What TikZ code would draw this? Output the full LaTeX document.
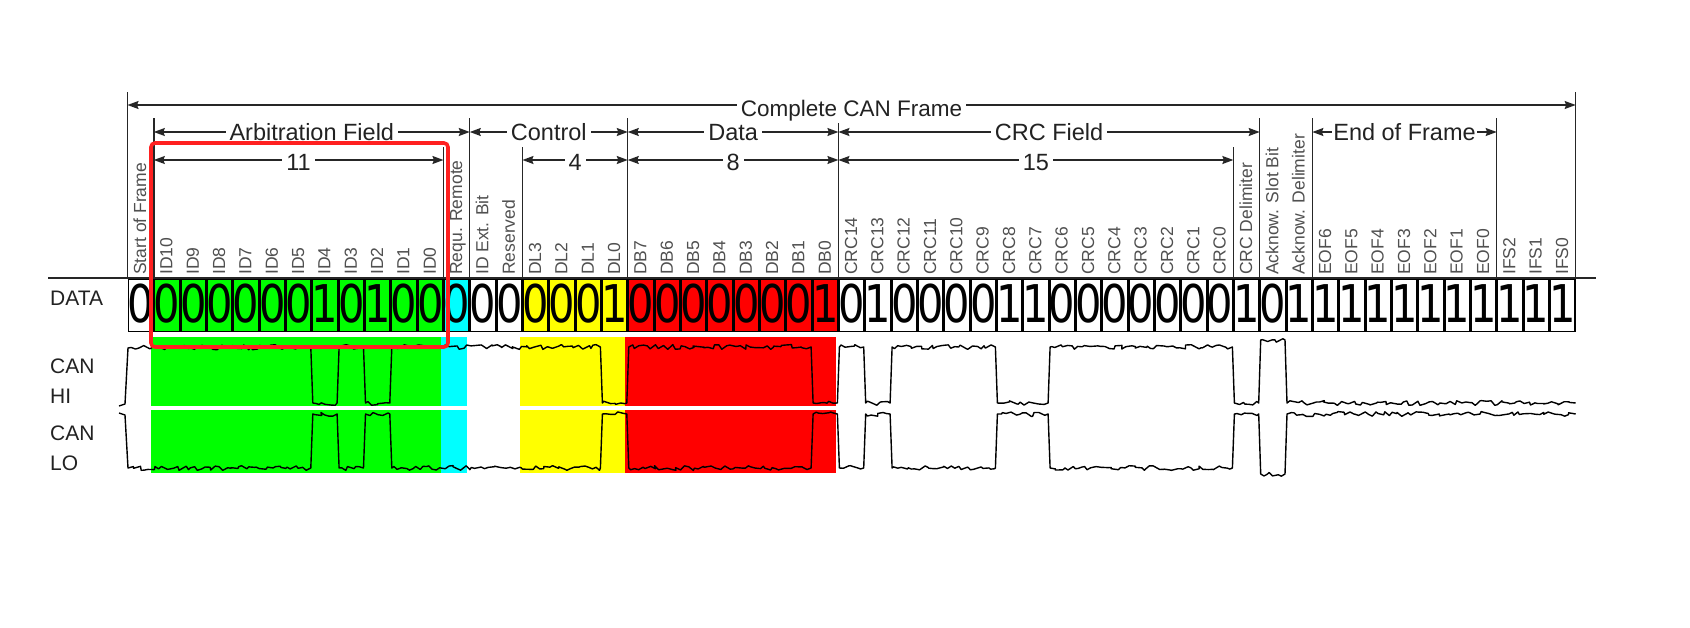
\documentclass[tikz,border=0pt]{standalone}
\usepackage{fontspec}
\setmainfont{Liberation Sans}
\newfontfamily\digitfont{DejaVu Sans}
\usetikzlibrary{arrows.meta,decorations.pathmorphing}
\definecolor{cgreen}{RGB}{0,255,0}
\definecolor{ccyan}{RGB}{0,255,255}
\definecolor{cyellow}{RGB}{255,255,0}
\definecolor{cred}{RGB}{255,0,0}
\definecolor{hlred}{RGB}{255,32,32}
\definecolor{lblgray}{RGB}{80,80,80}
\definecolor{hdrtext}{RGB}{34,34,34}
\begin{document}
\begin{tikzpicture}[x=1pt,y=-1pt,
  bnd/.style={line width=1.4pt, black!85},
  dim/.style={line width=1.4pt, black!85, {Stealth[length=11pt,width=8pt,inset=1.5pt]}-{Stealth[length=11pt,width=8pt,inset=1.5pt]}},
  hdr/.style={fill=white, inner xsep=4pt, inner ysep=2pt, anchor=base, text=hdrtext, font=\fontsize{23.5}{26}\selectfont},
  lbl/.style={rotate=90, anchor=base west, inner sep=0pt, text=lblgray, font=\fontsize{17.5}{19}\selectfont},
  cell/.style={draw=black, line width=1.5pt},
  digit/.style={anchor=base, inner sep=0pt, font=\digitfont\fontsize{52}{52}\selectfont},
  rowlbl/.style={anchor=base west, inner sep=0pt, text=hdrtext, font=\fontsize{21}{24}\selectfont},
  sig/.style={line width=1.4pt, black, line join=round, decoration={random steps, segment length=3.5pt, amplitude=2.4pt}},
  hilite/.style={draw=hlred, line width=3.6pt, rounded corners=4pt}
]
\pgfmathsetseed{7}
\useasboundingbox (0,0) rectangle (1690,627);
\fill[white] (0,0) rectangle (1690,627);

% colour bands behind the bus signals
\fill[cgreen]  (150.5,337) rectangle (440.5,405.5);
\fill[cgreen]  (150.5,410) rectangle (440.5,473);
\fill[ccyan]   (440.5,337) rectangle (466.5,405.5);
\fill[ccyan]   (440.5,410) rectangle (466.5,473);
\fill[cyellow] (519.5,337) rectangle (625,405.5);
\fill[cyellow] (519.5,410) rectangle (625,473);
\fill[cred]    (625,337) rectangle (836,405.5);
\fill[cred]    (625,410) rectangle (836,473);

% data cells
\foreach \k/\v/\c in {0/0/white,1/0/cgreen,2/0/cgreen,3/0/cgreen,4/0/cgreen,5/0/cgreen,6/0/cgreen,7/1/cgreen,8/0/cgreen,9/1/cgreen,10/0/cgreen,11/0/cgreen,12/0/ccyan,13/0/white,14/0/white,15/0/cyellow,16/0/cyellow,17/0/cyellow,18/1/cyellow,19/0/cred,20/0/cred,21/0/cred,22/0/cred,23/0/cred,24/0/cred,25/0/cred,26/1/cred,27/0/white,28/1/white,29/0/white,30/0/white,31/0/white,32/0/white,33/1/white,34/1/white,35/0/white,36/0/white,37/0/white,38/0/white,39/0/white,40/0/white,41/0/white,42/1/white,43/0/white,44/1/white,45/1/white,46/1/white,47/1/white,48/1/white,49/1/white,50/1/white,51/1/white,52/1/white,53/1/white,54/1/white} {
  \pgfmathsetmacro\xa{127.5+26.33*\k+0.75}
  \pgfmathsetmacro\xb{127.5+26.33*(\k+1)-0.75}
  \pgfmathsetmacro\xc{127.5+26.33*(\k+0.5)}
  \draw[cell, fill=\c] (\xa,279.7) rectangle (\xb,331.3);
  \node[digit] (d\k) at (\xc,322) {\scalebox{0.8}[1]{\v}};
}

% top rule of the data row
\draw[line width=1.3pt, black!85] (48,278) -- (1596,278);

% field boundary lines
\draw[bnd] (127.5,92) -- (127.5,279);
\draw[bnd] (1575.65,92) -- (1575.65,279);
\foreach \x in {153.83,469.79,627.77,838.41,1259.69,1312.35,1496.66}
  \draw[bnd] (\x,118) -- (\x,279);
\foreach \x in {443.46,522.45,1233.36}
  \draw[bnd] (\x,147) -- (\x,279);

% dimension arrows
\coordinate (f0) at (127.5,105);   \coordinate (f1) at (1575.65,105);
\coordinate (a0) at (153.83,132);  \coordinate (a1) at (469.79,132);
\coordinate (c0) at (469.79,132);  \coordinate (c1) at (627.77,132);
\coordinate (t0) at (627.77,132);  \coordinate (t1) at (838.41,132);
\coordinate (r0) at (838.41,132);  \coordinate (r1) at (1259.69,132);
\coordinate (e0) at (1312.35,132); \coordinate (e1) at (1496.66,132);
\coordinate (n0) at (153.83,160);  \coordinate (n1) at (443.46,160);
\coordinate (m0) at (522.45,160);  \coordinate (m1) at (627.77,160);
\coordinate (p0) at (627.77,160);  \coordinate (p1) at (838.41,160);
\coordinate (q0) at (838.41,160);  \coordinate (q1) at (1233.36,160);
\draw[dim] (f0) -- (f1);
\draw[dim] (a0) -- (a1);
\draw[dim] (c0) -- (c1);
\draw[dim] (t0) -- (t1);
\draw[dim] (r0) -- (r1);
\draw[dim] (e0) -- (e1);
\draw[dim] (n0) -- (n1);
\draw[dim] (m0) -- (m1);
\draw[dim] (p0) -- (p1);
\draw[dim] (q0) -- (q1);

\node[hdr, font=\fontsize{22.5}{25}\selectfont] (hFrame) at (851.6,116) {Complete CAN Frame};
\node[hdr] (hArb)  at (311.8,140) {Arbitration Field};
\node[hdr] (hCtl)  at (548.8,140) {Control};
\node[hdr] (hDat)  at (733.1,140) {Data};
\node[hdr] (hCRC)  at (1049.1,140) {CRC Field};
\node[hdr, inner xsep=1pt] (hEOF) at (1404.5,140) {End of Frame};
\node[hdr] (h11) at (298.6,170) {11};
\node[hdr] (h4)  at (575.1,170) {4};
\node[hdr] (h8)  at (733.1,170) {8};
\node[hdr] (h15) at (1035.9,170) {15};

% bit labels
\foreach \k/\t in {0/Start of Frame,1/ID10,2/ID9,3/ID8,4/ID7,5/ID6,6/ID5,7/ID4,8/ID3,9/ID2,10/ID1,11/ID0,12/Requ. Remote,13/ID Ext. Bit,14/Reserved,15/DL3,16/DL2,17/DL1,18/DL0,19/DB7,20/DB6,21/DB5,22/DB4,23/DB3,24/DB2,25/DB1,26/DB0,27/CRC14,28/CRC13,29/CRC12,30/CRC11,31/CRC10,32/CRC9,33/CRC8,34/CRC7,35/CRC6,36/CRC5,37/CRC4,38/CRC3,39/CRC2,40/CRC1,41/CRC0,42/CRC Delimiter,43/Acknow. Slot Bit,44/Acknow. Delimiter,45/EOF6,46/EOF5,47/EOF4,48/EOF3,49/EOF2,50/EOF1,51/EOF0,52/IFS2,53/IFS1,54/IFS0} {
  \pgfmathsetmacro\xl{127.5+26.33*(\k+0.5)+5.5}
  \node[lbl] (l\k) at (\xl,275) {\t};
}

% row labels
\node[rowlbl] (rData) at (50,305) {DATA};
\node[rowlbl] (rCan1) at (50,373) {CAN};
\node[rowlbl] (rHi)   at (50,403) {HI};
\node[rowlbl] (rCan2) at (50,440) {CAN};
\node[rowlbl] (rLo)   at (50,470) {LO};

% CAN HI
\draw[sig] (119,406) -- (125,404) -- (128,348)
 decorate{-- (310.8,347)} -- (312.8,403)
 decorate{-- (337.1,403)} -- (339.1,347)
 decorate{-- (363.5,347)} -- (365.5,403)
 decorate{-- (389.8,403)} -- (391.8,347)
 decorate{-- (600.4,347)} -- (602.4,403)
 decorate{-- (626.8,403)} -- (628.8,347)
 decorate{-- (811.1,347)} -- (813.1,403)
 decorate{-- (837.4,403)} -- (839.4,347)
 decorate{-- (863.7,347)} -- (865.7,403)
 decorate{-- (890.1,403)} -- (892.1,347)
 decorate{-- (995.4,347)} -- (997.4,403)
 decorate{-- (1048.1,403)} -- (1050.1,347)
 decorate{-- (1232.4,347)} -- (1234.4,403)
 decorate{-- (1258.7,403)} -- (1260.7,340)
 decorate{-- (1285.0,340)} -- (1287.0,403)
 decorate{-- (1575.7,403)};

% CAN LO
\draw[sig] (119,413) -- (125,415) -- (128,468)
 decorate{-- (310.8,468)} -- (312.8,414)
 decorate{-- (337.1,414)} -- (339.1,468)
 decorate{-- (363.5,468)} -- (365.5,414)
 decorate{-- (389.8,414)} -- (391.8,468)
 decorate{-- (600.4,468)} -- (602.4,414)
 decorate{-- (626.8,414)} -- (628.8,468)
 decorate{-- (811.1,468)} -- (813.1,414)
 decorate{-- (837.4,414)} -- (839.4,468)
 decorate{-- (863.7,468)} -- (865.7,414)
 decorate{-- (890.1,414)} -- (892.1,468)
 decorate{-- (995.4,468)} -- (997.4,414)
 decorate{-- (1048.1,414)} -- (1050.1,468)
 decorate{-- (1232.4,468)} -- (1234.4,414)
 decorate{-- (1258.7,414)} -- (1260.7,474)
 decorate{-- (1285.0,474)} -- (1287.0,414)
 decorate{-- (1575.7,414)};

% highlight
\draw[hilite] (151,143) rectangle (448,347);
\end{tikzpicture}
\end{document}
